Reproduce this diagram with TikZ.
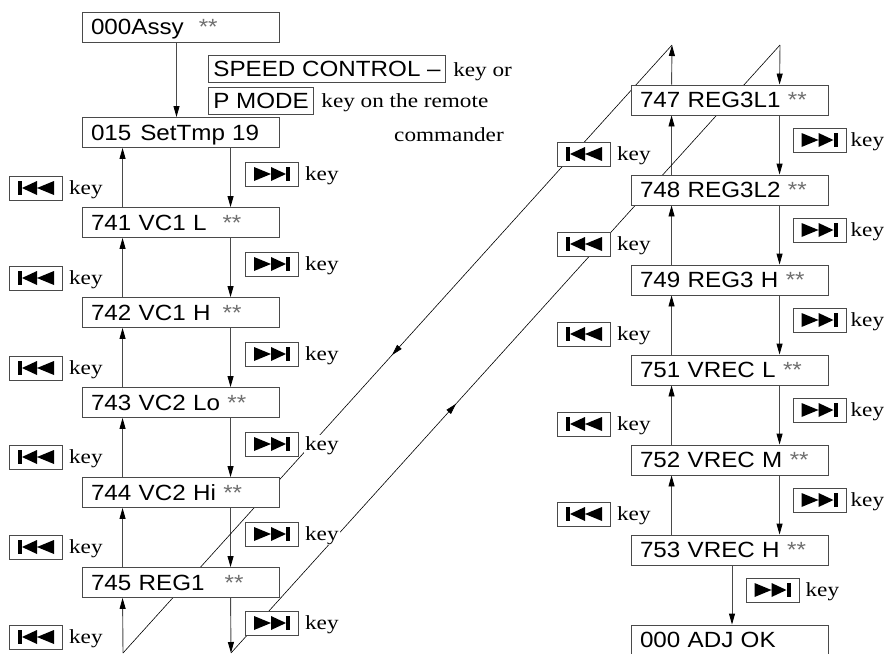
\documentclass[tikz,border=0pt]{standalone}
\usepackage{fontspec}
\setmainfont{Liberation Serif}[FakeStretch=1.16]
\newfontfamily\lcdfont{Liberation Sans}[FakeStretch=1.1]
\usetikzlibrary{arrows.meta,positioning,calc,backgrounds,decorations.markings}
\definecolor{inkgray}{HTML}{4A4A4A}
\definecolor{stargray}{HTML}{707070}
\newcommand{\stars}{{\color{stargray}**}}

\begin{document}
\begin{tikzpicture}[x=1pt, y=-1pt,
  state/.style={draw=inkgray, line width=0.9pt, fill=white, minimum width=197pt, minimum height=30pt,
    inner xsep=9pt, inner ysep=0pt, text width=179pt, align=left,
    font=\lcdfont\fontsize{22}{26}\selectfont, text height=15.8pt, text depth=0pt},
  btn/.style={draw=inkgray, line width=0.8pt, fill=white, minimum height=27pt, inner xsep=5pt, inner ysep=0pt,
    font=\lcdfont\fontsize{22}{26}\selectfont, text height=15.8pt, text depth=0pt},
  keybox/.style={draw=inkgray, line width=0.8pt, fill=white, minimum width=53pt, minimum height=24pt, inner sep=0pt},
  keytxt/.style={font=\fontsize{20}{24}\selectfont, fill=white, inner sep=1pt, anchor=base west},
  flow/.style={draw=inkgray, line width=0.9pt, -{Triangle[length=11pt,width=6pt,color=black]}},
  diag/.style={draw=black, line width=0.6pt, postaction=decorate},
  midarrow/.style={decoration={markings, mark=at position #1 with {\arrow{Triangle[length=11pt,width=6pt]}}}},
  nextkey/.pic={\node[keybox] (-box) {};
    \fill (-18,-7) -- (-18,7) -- (-1,0) -- cycle (-1,-7) -- (-1,7) -- (14,0) -- cycle;
    \fill (14,-7) rectangle (18,7);},
  prevkey/.pic={\node[keybox] (-box) {};
    \fill (-18,-7) rectangle (-14,7);
    \fill (-14,0) -- (1,-7) -- (1,7) -- cycle (1,0) -- (18,-7) -- (18,7) -- cycle;}]
\useasboundingbox (0,0) rectangle (885,653);

\node[state] (a000) at (180.5,27) {000Assy\hspace{15pt}\stars};
\node[state] (a015) at (180.5,132.5) {015\hspace{9pt}SetTmp\hspace{7pt}19};
\node[state] (a741) at (180.5,222.5) {741 VC1 L\hspace{16pt}\stars};
\node[state] (a742) at (180.5,312.5) {742 VC1 H\hspace{12pt}\stars};
\node[state] (a743) at (180.5,402.5) {743 VC2 Lo \stars};
\node[state] (a744) at (180.5,492.5) {744 VC2 Hi \stars};
\node[state] (a745) at (180.5,582.5) {745 REG1\hspace{20pt}\stars};

\node[state] (b747) at (729.5,100) {747 REG3L1 \stars};
\node[state] (b748) at (729.5,190) {748 REG3L2 \stars};
\node[state] (b749) at (729.5,280) {749 REG3 H \stars};
\node[state] (b751) at (729.5,370) {751 VREC L \stars};
\node[state] (b752) at (729.5,460) {752 VREC M \stars};
\node[state] (b753) at (729.5,550) {753 VREC H \stars};
\node[state] (b000) at (729.5,640) {000 ADJ OK};

\node[btn, anchor=west] (spd) at (208,69) {SPEED CONTROL –};
\node[keytxt] at ([xshift=6pt,yshift=-7pt]spd.east) {key or};
\node[btn, anchor=west] (pmode) at (208,100.5) {P MODE};
\node[keytxt] at ([xshift=6pt,yshift=-7pt]pmode.east) {key on the remote};
\node[keytxt] (cmdr) at (393,141) {commander};

\coordinate (lb1) at (123,653);
\coordinate (lb2) at (231,653);
\coordinate (rt1) at (672,45);
\coordinate (rt2) at (780,45);

\begin{scope}[on background layer]
\draw[flow] ([xshift=-4pt]a000.south) -- ([xshift=-4pt]a015.north);
\foreach \hi/\lo in {a015/a741, a741/a742, a742/a743, a743/a744, a744/a745,
                     b747/b748, b748/b749, b749/b751, b751/b752, b752/b753} {
  \draw[flow] ([xshift=41pt]\lo.north west) -- ([xshift=41pt]\hi.south west);
  \draw[flow] ([xshift=149pt]\hi.south west) -- ([xshift=149pt]\lo.north west);
}
\draw[flow] (lb1) -- ([xshift=41pt]a745.south west);
\draw[flow] ([xshift=149pt]a745.south west) -- (lb2);
\draw[flow] ([xshift=41pt]b747.north west) -- (rt1);
\draw[flow] (rt2) -- ([xshift=149pt]b747.north west);
\draw[flow] ([xshift=2.5pt]b753.south) -- ([xshift=2.5pt]b000.north);
\draw[diag, midarrow=0.51] (rt1) -- (lb1);
\draw[diag, midarrow=0.41] (lb2) -- (rt2);
\end{scope}

\foreach \y [count=\i] in {188,278,368,457,547,637} {
  \pic (lp\i) at (36,\y) {prevkey};
  \node[keytxt] at ([xshift=5pt,yshift=-6pt]lp\i-box.east) {key};
}
\foreach \y [count=\i] in {174,264,354,444,534,623} {
  \pic (ln\i) at (272,\y) {nextkey};
  \node[keytxt] at ([xshift=5pt,yshift=-6pt]ln\i-box.east) {key};
}
\foreach \y [count=\i] in {154,244,334,424,514} {
  \pic (rp\i) at (584,\y) {prevkey};
  \node[keytxt] at ([xshift=5pt,yshift=-6pt]rp\i-box.east) {key};
}
\foreach \y [count=\i] in {140,230,320,410,500} {
  \pic (rn\i) at (819.5,\y) {nextkey};
  \node[keytxt] at ([xshift=3pt,yshift=-6pt]rn\i-box.east) {key};
}
\pic (fn) at (772.5,590) {nextkey};
\node[keytxt] at ([xshift=5pt,yshift=-6pt]fn-box.east) {key};
\end{tikzpicture}
\end{document}
